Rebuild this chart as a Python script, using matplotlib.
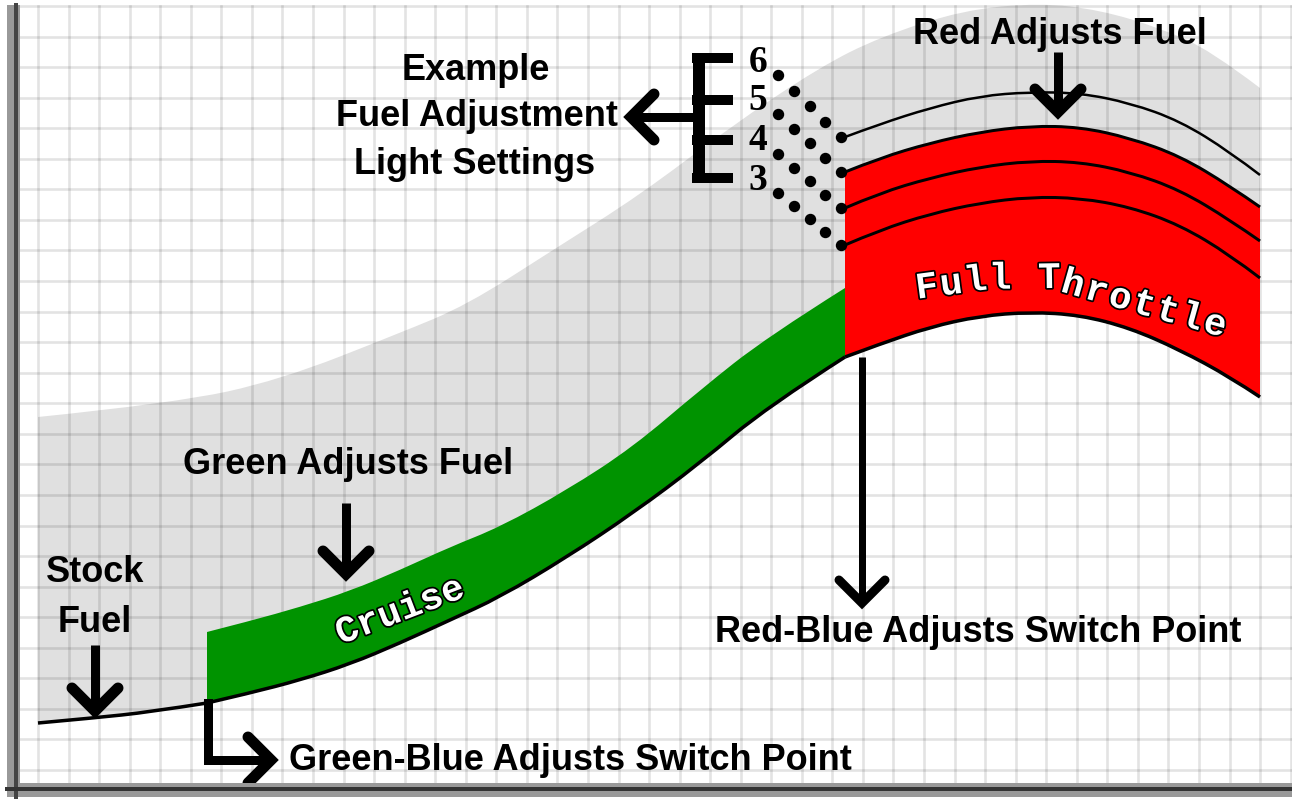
import matplotlib.pyplot as plt
import matplotlib.patheffects as pe
from matplotlib.path import Path
from matplotlib.patches import PathPatch
import numpy as np

# stock fuel curve, left of the green switch point
stock_x = [38, 93, 150, 207]
stock_y = [723, 718, 712, 703]

# cruise band (green)
cruise_x = [207, 250, 300, 350, 400, 450, 500, 567, 633, 700, 767, 845]
cruise_low = [703, 693, 680, 664, 643, 620, 597, 557, 513, 463, 407, 357]
cruise_high = [632, 621, 607, 591, 570, 547, 527, 490, 447, 390, 337, 288]

# full throttle band (red) and the light setting curves
wot_x = [845, 880, 930, 980, 1030, 1080, 1130, 1180, 1230, 1260]
wot_low = [357, 344, 327, 316, 312, 315, 328, 350, 377, 397]
setting_6 = [137, 124, 108, 96, 92, 93, 103, 121, 152, 175]
setting_5 = [172, 158, 143, 132, 126, 127, 138, 156, 186, 207]
setting_4 = [208, 193, 178, 167, 161, 162, 172, 190, 220, 241]
setting_3 = [245, 230, 214, 203, 197, 198, 207, 225, 255, 278]
setting_labels = ['6', '5', '4', '3']
setting_label_y = [62, 101, 141, 180]

# upper edge of the grey adjustment range
env_x = [38, 175, 280, 400, 467, 553, 640, 730, 820, 880, 963, 1040, 1100, 1160, 1210, 1260]
env_y = [417, 403, 380, 333, 305, 250, 195, 127, 67, 37, 10, 3, 10, 28, 50, 88]

# path that "Full Throttle" follows
ft_path_x = [915, 990, 1050, 1120, 1235]
ft_path_y = [289, 279, 278, 298, 330]

W, H = 1292, 799
LABEL = dict(family='Liberation Sans', weight='bold', fontsize=26, color='black',
             ha='center', va='center', zorder=6)


def px(v):
    return v * 0.72


def smooth(xs, ys):
    pts = np.column_stack([xs, ys]).astype(float)
    verts = [pts[0]]
    codes = [Path.MOVETO]
    n = len(pts)
    if n == 2:
        return verts + [pts[1]], codes + [Path.LINETO]
    for i in range(1, n - 1):
        end = pts[i + 1] if i == n - 2 else (pts[i] + pts[i + 1]) / 2
        verts += [pts[i], end]
        codes += [Path.CURVE3, Path.CURVE3]
    return verts, codes


def curve(ax, xs, ys, lw, z=4):
    v, c = smooth(xs, ys)
    ax.add_patch(PathPatch(Path(v, c), fill=False, edgecolor='black', lw=px(lw),
                           capstyle='butt', zorder=z))


def band(ax, up_x, up_y, low_x, low_y, color, z):
    v1, c1 = smooth(up_x, up_y)
    v2, c2 = smooth(low_x[::-1], low_y[::-1])
    c2[0] = Path.LINETO
    verts = v1 + v2 + [v1[0]]
    codes = c1 + c2 + [Path.CLOSEPOLY]
    ax.add_patch(PathPatch(Path(verts, codes), facecolor=color, lw=0, zorder=z))


def arrow(ax, x0, y0, x1, y1, head=23, lw=9):
    d = np.array([x1 - x0, y1 - y0], dtype=float)
    d /= np.hypot(*d)
    p = np.array([-d[1], d[0]])
    tip = np.array([x1, y1]) - d * 5
    ax.plot([x0, tip[0] - d[0] * 4], [y0, tip[1] - d[1] * 4], color='black',
            lw=px(lw), solid_capstyle='butt', zorder=6)
    a = tip - d * head + p * head
    b = tip - d * head - p * head
    ax.plot([a[0], tip[0], b[0]], [a[1], tip[1], b[1]], color='black', lw=px(lw + 2),
            solid_joinstyle='miter', solid_capstyle='round', zorder=6)


def main():
    fig = plt.figure(figsize=(12.92, 7.99), dpi=100)
    ax = fig.add_axes([0, 0, 1, 1])
    ax.set_xlim(0, W)
    ax.set_ylim(H, 0)
    ax.axis('off')

    # grey range: between the upper envelope and the stock/cruise/wot lower curve
    low_x = stock_x + cruise_x[1:] + wot_x[1:]
    low_y = stock_y + cruise_low[1:] + wot_low[1:]
    band(ax, env_x, env_y, low_x, low_y, '#e0e0e0', 1)

    # graph paper
    for gx in np.arange(7.5, W, 30.55):
        ax.plot([gx, gx], [6, 783], color='black', alpha=0.11, lw=px(2.6), zorder=2)
    for gy in np.arange(6, 783, 30.56):
        ax.plot([20, W], [gy, gy], color='black', alpha=0.11, lw=px(2.6), zorder=2)

    # bands
    band(ax, cruise_x, cruise_high, cruise_x, cruise_low, '#009300', 3)
    band(ax, wot_x, setting_5, wot_x, wot_low, '#ff0000', 3)

    # curves
    curve(ax, stock_x, stock_y, 3.5)
    curve(ax, cruise_x, cruise_low, 3.5)
    curve(ax, wot_x, wot_low, 3.5)
    for ys, w in zip([setting_6, setting_5, setting_4, setting_3], [2.5, 3, 3, 3]):
        curve(ax, wot_x, ys, w)

    # dotted leaders from the numbers to the curve starts
    for ys, ly in zip([setting_6, setting_5, setting_4, setting_3], setting_label_y):
        dx = np.linspace(778, wot_x[0] - 4, 5)
        dy = np.linspace(ly + 13, ys[0], 5)
        ax.plot(dx, dy, 'o', color='black', ms=px(10), zorder=5)

    for lab, ly in zip(setting_labels, setting_label_y):
        ax.text(758, ly, lab, family='Liberation Serif', weight='bold', fontsize=27,
                ha='center', va='center', zorder=6)

    # bracket
    ax.plot([698.5, 698.5], [53, 183], color='black', lw=px(12), solid_capstyle='butt', zorder=6)
    for by in [58, 100, 140, 178]:
        ax.plot([692, 733], [by, by], color='black', lw=px(10), solid_capstyle='butt', zorder=6)

    # arrows
    arrow(ax, 95, 645, 95, 716)
    arrow(ax, 346, 503, 346, 579)
    arrow(ax, 1058, 52, 1058, 117)
    arrow(ax, 862, 357, 862, 608, lw=7)
    arrow(ax, 693, 117, 626, 117)
    ax.plot([208, 208, 240], [703, 760, 760], color='black', lw=px(9),
            solid_joinstyle='miter', zorder=6)
    arrow(ax, 236, 760, 276, 760)

    # labels
    ax.text(476, 70, 'Example', **LABEL)
    ax.text(477, 117, 'Fuel Adjustment', **LABEL)
    ax.text(475, 165, 'Light Settings', **LABEL)
    ax.text(1060, 35, 'Red Adjusts Fuel', **LABEL)
    ax.text(348, 465, 'Green Adjusts Fuel', **LABEL)
    ax.text(95, 573, 'Stock', **LABEL)
    ax.text(95, 622, 'Fuel', **LABEL)
    ax.text(978, 632, 'Red-Blue Adjusts Switch Point', **LABEL)
    ax.text(570, 760, 'Green-Blue Adjusts Switch Point', **LABEL)

    outline = [pe.Stroke(linewidth=2.5, foreground='black'), pe.Normal()]
    ax.text(400, 611, 'Cruise', family='Liberation Mono', weight='bold', fontsize=27,
            color='white', ha='center', va='center', rotation=21,
            path_effects=outline, zorder=7)

    # Full Throttle, one character at a time along its path
    fx = np.array(ft_path_x, dtype=float)
    fy = np.array(ft_path_y, dtype=float)
    seg = np.hypot(np.diff(fx), np.diff(fy))
    cum = np.concatenate([[0], np.cumsum(seg)])
    for i, ch in enumerate('Full Throttle'):
        s = 12 + i * 24.6
        k = min(np.searchsorted(cum, s) - 1, len(seg) - 1)
        t = (s - cum[k]) / seg[k]
        cx = fx[k] + t * (fx[k + 1] - fx[k])
        cy = fy[k] + t * (fy[k + 1] - fy[k])
        ang = np.degrees(np.arctan2(-(fy[k + 1] - fy[k]), fx[k + 1] - fx[k]))
        ax.text(cx, cy, ch, family='Liberation Mono', weight='bold', fontsize=27,
                color='white', ha='center', va='center', rotation=ang,
                rotation_mode='anchor', path_effects=outline, zorder=7)

    # window frame
    ax.fill_between([7, 20], [5, 5], [797, 797], color='#999999', lw=0, zorder=8)
    ax.plot([15.5, 15.5], [5, 797], color='#444444', lw=px(4), zorder=9)
    ax.fill_between([7, W], [783, 783], [797, 797], color='#999999', lw=0, zorder=8)
    ax.plot([7, W], [789, 789], color='#333333', lw=px(4), zorder=9)

    fig.savefig('out.png', dpi=100)


if __name__ == '__main__':
    main()
